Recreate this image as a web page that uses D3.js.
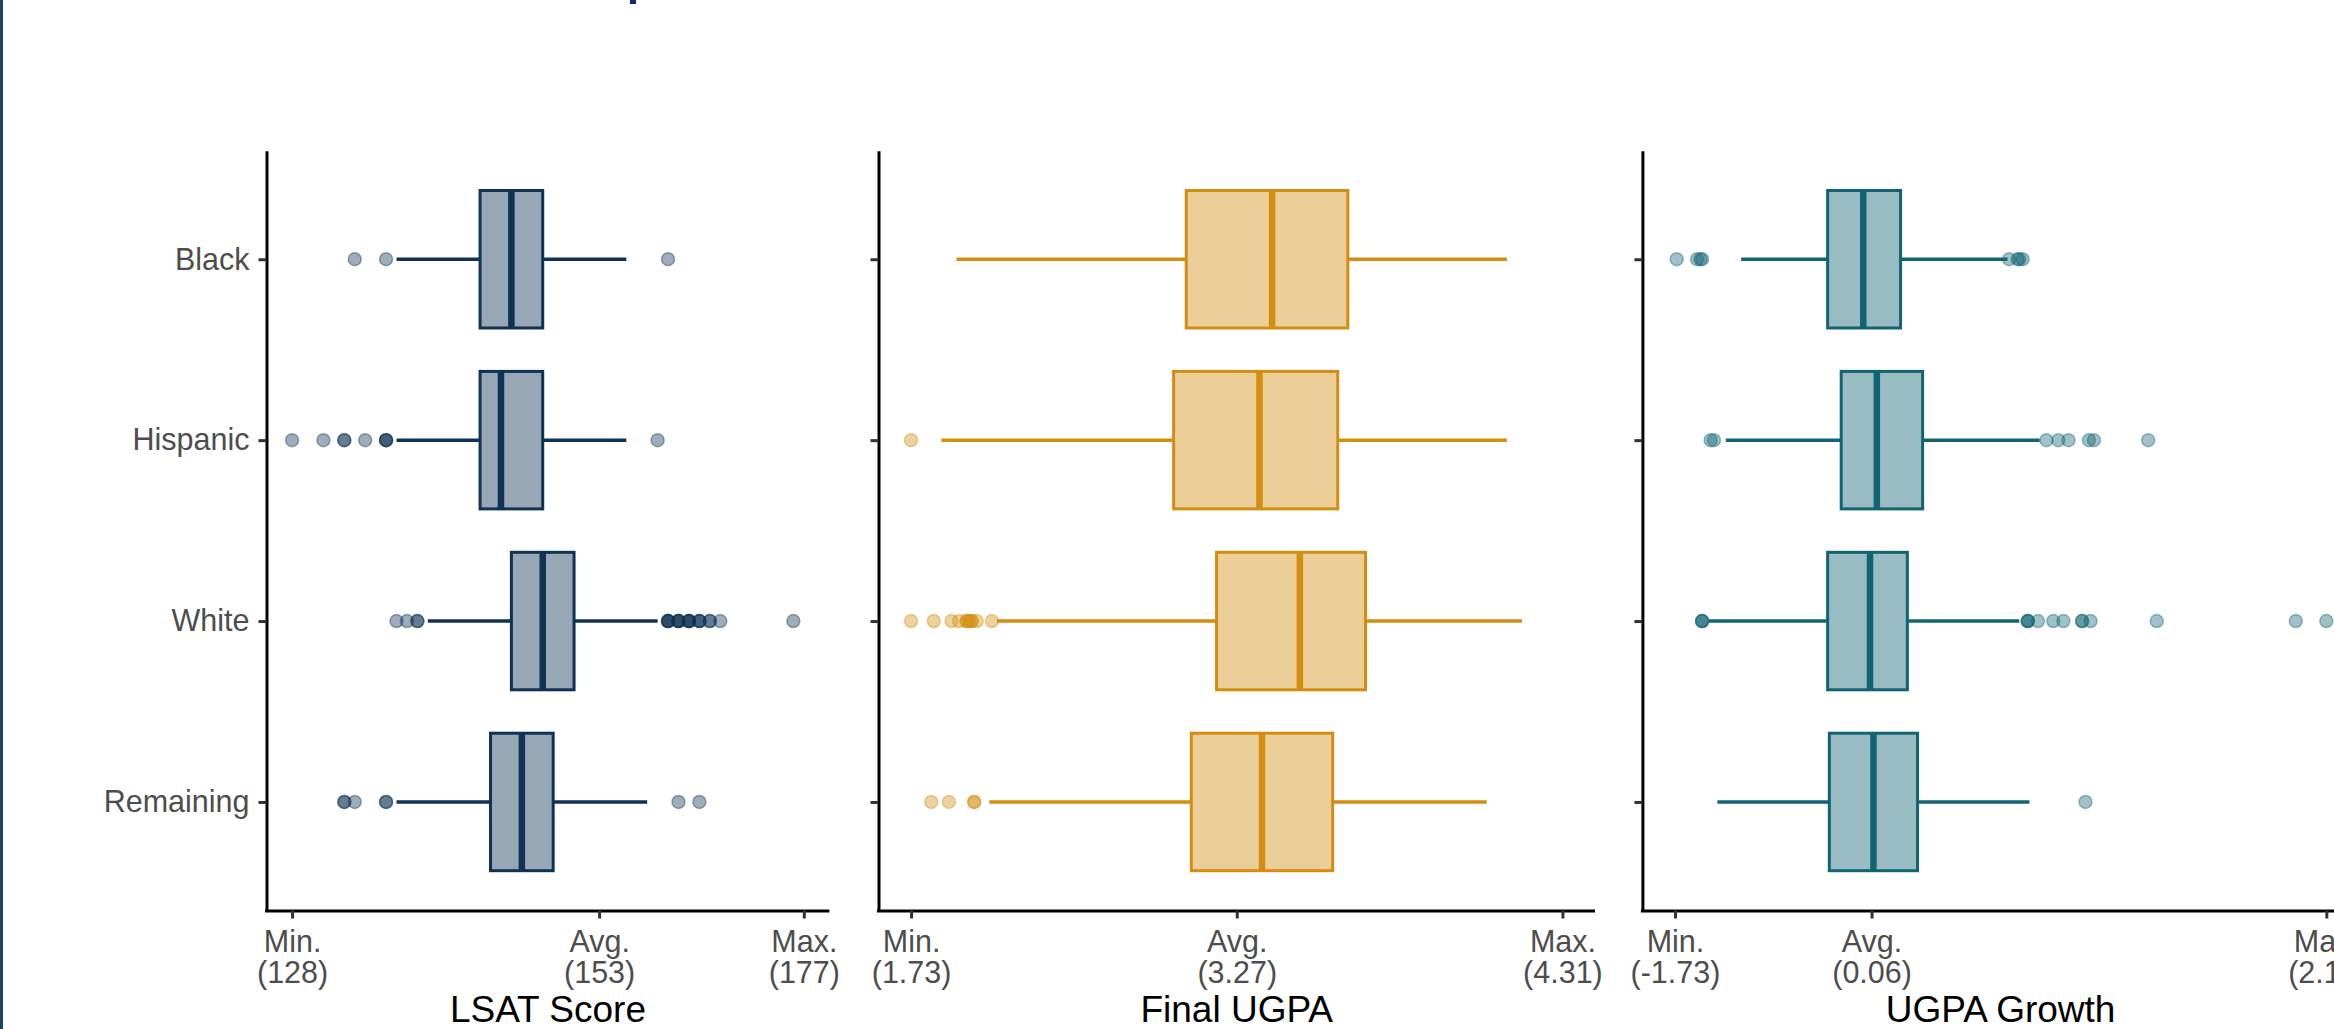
<!DOCTYPE html>
<html>
<head>
<meta charset="utf-8">
<script src="https://cdn.jsdelivr.net/npm/d3@7"></script>
<style>
  html, body { margin: 0; padding: 0; background: #ffffff; }
  svg { display: block; }
  text { font-family: "Liberation Sans", Arial, sans-serif; }
</style>
</head>
<body>
<svg id="chart" width="2334" height="1029"></svg>
<script>
// ---------------- DATA ----------------
const categories = ["Black", "Hispanic", "White", "Remaining"];
const axisTitles = ["LSAT Score", "Final UGPA", "UGPA Growth"];

// box stats per category: [lower whisker, Q1, median, Q3, upper whisker]
const lsatBox = [
  [138, 146, 149, 152, 160],
  [138, 146, 148, 152, 160],
  [141, 149, 152, 155, 163],
  [138, 147, 150, 153, 162]
];
const lsatOutliers = [
  [134, 137, 164],
  [128, 131, 133, 133, 135, 137, 137, 137, 163],
  [138, 139, 140, 140, 164, 164, 164, 164, 165, 165, 165, 165, 166, 166, 166, 166, 167, 167, 167, 168, 168, 169, 176],
  [133, 133, 134, 137, 137, 165, 167]
];

const ugpaBox = [
  [1.91, 2.82, 3.16, 3.46, 4.09],
  [1.85, 2.77, 3.11, 3.42, 4.09],
  [2.07, 2.94, 3.27, 3.53, 4.15],
  [2.04, 2.84, 3.12, 3.40, 4.01]
];
const ugpaOutliers = [
  [],
  [1.73],
  [1.73, 1.82, 1.89, 1.92, 1.95, 1.95, 1.96, 1.97, 1.97, 1.99, 2.05],
  [1.81, 1.88, 1.98, 1.98]
];

const growthBox = [
  [-1.34, -0.83, -0.62, -0.40, 0.23],
  [-1.43, -0.75, -0.54, -0.27, 0.42],
  [-1.53, -0.83, -0.58, -0.36, 0.30],
  [-1.48, -0.82, -0.56, -0.30, 0.36]
];
const growthOutliers = [
  [-1.72, -1.60, -1.58, -1.57, 0.24, 0.29, 0.30, 0.32],
  [-1.52, -1.50, 0.46, 0.53, 0.59, 0.71, 0.74, 1.06],
  [-1.57, -1.57, -1.57, 0.35, 0.35, 0.35, 0.41, 0.50, 0.56, 0.67, 0.67, 0.72, 1.11, 1.93, 2.11],
  [0.69]
];

// x tick positions (Min., Avg., Max.) and their labels
const lsatTicks = [128, 157.4, 177];
const lsatTickLabels = [["Min.", "(128)"], ["Avg.", "(153)"], ["Max.", "(177)"]];
const ugpaTicks = [1.73, 3.02, 4.31];
const ugpaTickLabels = [["Min.", "(1.73)"], ["Avg.", "(3.27)"], ["Max.", "(4.31)"]];
const growthTicks = [-1.73, -0.571, 2.11];
const growthTickLabels = [["Min.", "(-1.73)"], ["Avg.", "(0.06)"], ["Max.", "(2.11)"]];

const colors = ["#0f3255", "#d38e12", "#126473"];

// ---------------- LAYOUT ----------------
const W = 2334, H = 1029;
const plotTop = 150.7, plotBottom = 910.5;
const panelLeft = [266.5, 878.5, 1642.4];
const panelRight = [829.4, 1595, 2358.9];

const panels = [
  { title: axisTitles[0], box: lsatBox, out: lsatOutliers, ticks: lsatTicks, labels: lsatTickLabels, color: colors[0] },
  { title: axisTitles[1], box: ugpaBox, out: ugpaOutliers, ticks: ugpaTicks, labels: ugpaTickLabels, color: colors[1] },
  { title: axisTitles[2], box: growthBox, out: growthOutliers, ticks: growthTicks, labels: growthTickLabels, color: colors[2] }
];

const svg = d3.select("#chart");
svg.append("rect").attr("x", 0).attr("y", 0).attr("width", W).attr("height", H).attr("fill", "#ffffff");

// left border of the slide and the cropped title fragment
svg.append("rect").attr("x", 0).attr("y", 0).attr("width", 3).attr("height", H).attr("fill", "#1c4469");
svg.append("rect").attr("x", 630).attr("y", 0).attr("width", 6).attr("height", 4).attr("fill", "#14286e");

const y = d3.scalePoint().domain(categories).range([plotTop, plotBottom]).padding(0.6);
const boxH = y.step() * 0.76;

panels.forEach((p, pi) => {
  const lo = p.ticks[0], hi = p.ticks[2];
  const span = hi - lo;
  const x = d3.scaleLinear().domain([lo - 0.05 * span, hi + 0.05 * span]).range([panelLeft[pi], panelRight[pi]]);
  const g = svg.append("g");

  // boxes
  categories.forEach((c, ci) => {
    const [wl, q1, med, q3, wh] = p.box[ci];
    const cy = y(c);
    const bg = g.append("g");
    bg.append("line").attr("x1", x(wl)).attr("x2", x(q1)).attr("y1", cy).attr("y2", cy)
      .attr("stroke", p.color).attr("stroke-width", 3.5);
    bg.append("line").attr("x1", x(q3)).attr("x2", x(wh)).attr("y1", cy).attr("y2", cy)
      .attr("stroke", p.color).attr("stroke-width", 3.5);
    bg.append("rect").attr("x", x(q1)).attr("y", cy - boxH / 2).attr("width", x(q3) - x(q1)).attr("height", boxH)
      .attr("fill", p.color).attr("fill-opacity", 0.43).attr("stroke", p.color).attr("stroke-width", 3);
    bg.append("line").attr("x1", x(med)).attr("x2", x(med)).attr("y1", cy - boxH / 2).attr("y2", cy + boxH / 2)
      .attr("stroke", p.color).attr("stroke-width", 6.5);
    // outliers
    bg.selectAll("circle.out").data(p.out[ci]).join("circle")
      .attr("class", "out")
      .attr("cx", d => x(d)).attr("cy", cy).attr("r", 6.5)
      .attr("fill", p.color).attr("fill-opacity", 0.4)
      .attr("stroke", p.color).attr("stroke-opacity", 0.4).attr("stroke-width", 1.5);
  });

  // y axis
  const yAxis = d3.axisLeft(y).tickSize(8).tickSizeOuter(0).tickPadding(9);
  const ya = svg.append("g").attr("transform", `translate(${panelLeft[pi]},0)`).call(yAxis);
  ya.select(".domain").attr("stroke", "#000").attr("stroke-width", 3);
  ya.selectAll(".tick line").attr("stroke", "#333333").attr("stroke-width", 3);
  ya.selectAll(".tick text").attr("fill", "#4d4d4d").style("font-size", "30.5px")
    .style("font-family", "'Liberation Sans', Arial, sans-serif");
  if (pi > 0) ya.selectAll(".tick text").remove();

  // x axis
  const xAxis = d3.axisBottom(x).tickValues(p.ticks).tickSize(8).tickSizeOuter(0).tickFormat("");
  const xa = svg.append("g").attr("transform", `translate(0,${plotBottom})`).call(xAxis);
  xa.select(".domain").attr("stroke", "#000").attr("stroke-width", 3)
    .attr("d", `M${panelLeft[pi] - 1.5},0.5H${panelRight[pi]}`);
  xa.selectAll(".tick line").attr("stroke", "#333333").attr("stroke-width", 3);
  xa.selectAll(".tick text").remove();
  xa.selectAll(".tick").each(function (d, i) {
    const t = d3.select(this).append("text")
      .attr("fill", "#4d4d4d").attr("text-anchor", "middle")
      .style("font-size", "30.5px");
    p.labels[i].forEach((line, li) => {
      t.append("tspan").attr("x", 0).attr("y", 41 + li * 31).text(line);
    });
  });

  // axis title
  svg.append("text")
    .attr("x", (panelLeft[pi] + panelRight[pi]) / 2)
    .attr("y", 1022)
    .attr("text-anchor", "middle")
    .attr("fill", "#000")
    .style("font-size", "37px")
    .text(p.title);
});
</script>
</body>
</html>
